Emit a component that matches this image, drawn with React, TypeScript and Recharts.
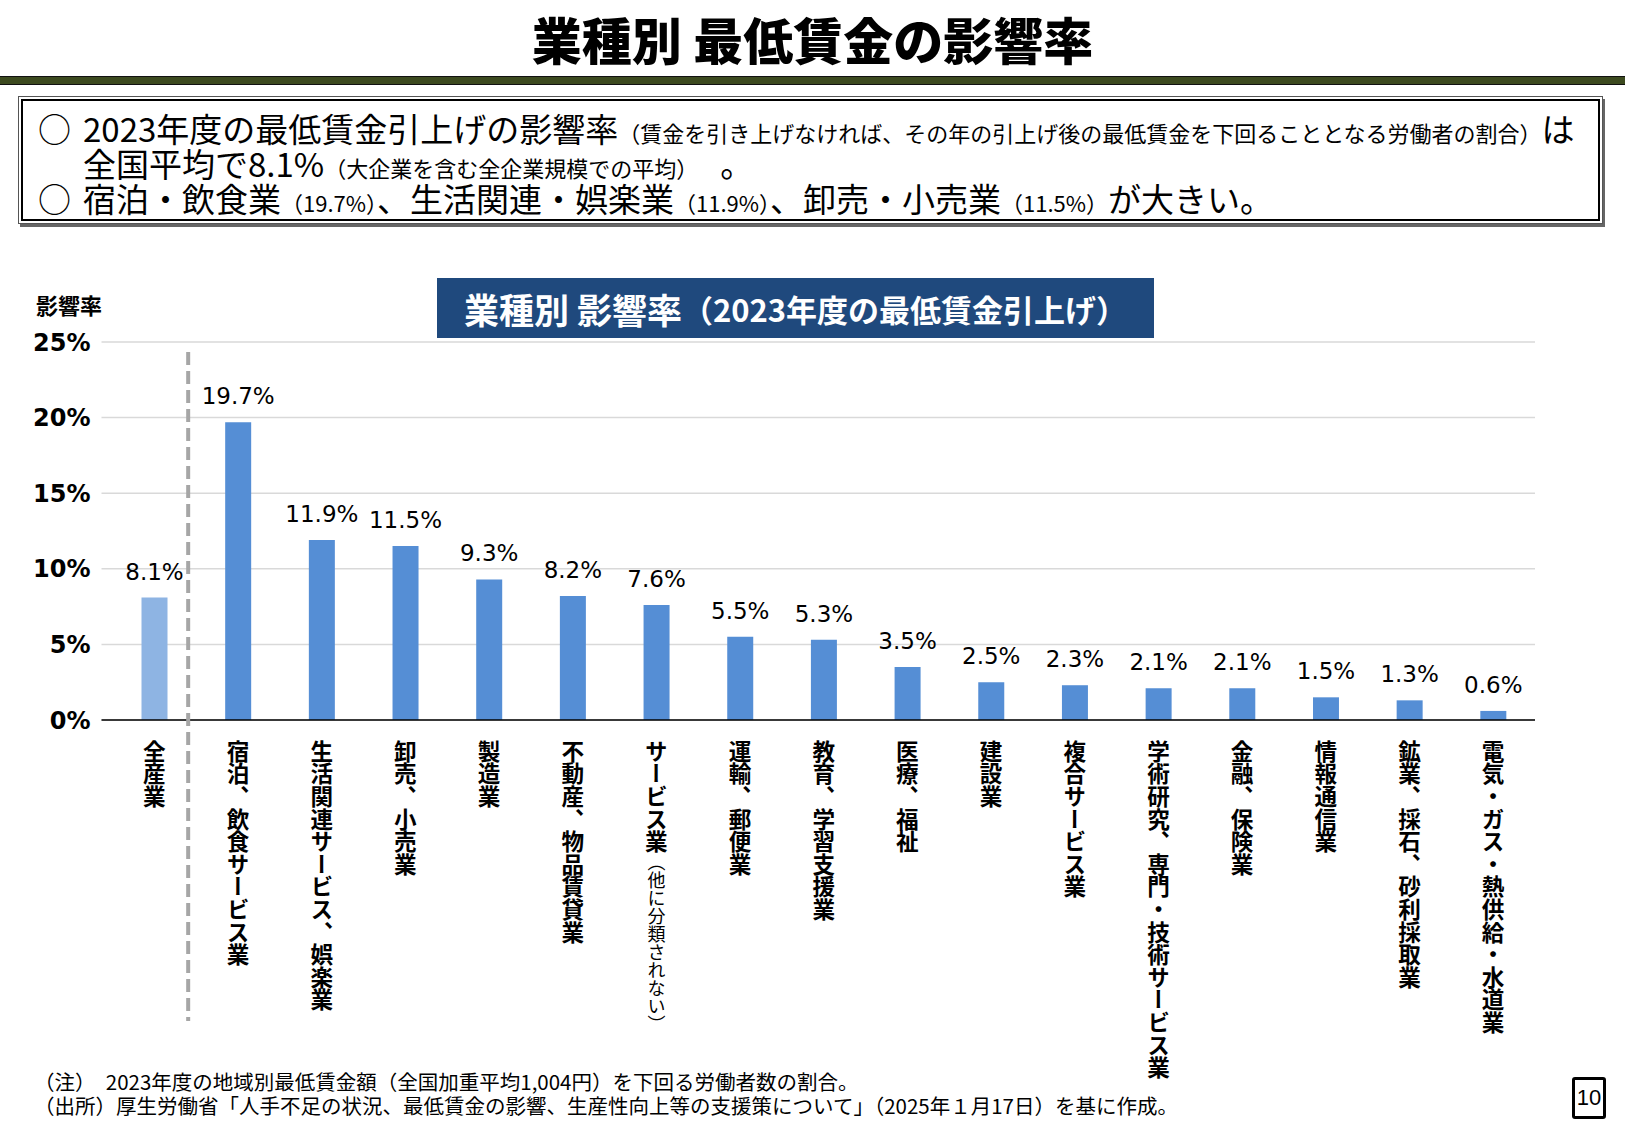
import { BarChart, Bar, XAxis, YAxis, CartesianGrid, Cell, LabelList } from "recharts";

const CATEGORIES = [
  "全産業",
  "宿泊、飲食サービス業",
  "生活関連サービス、娯楽業",
  "卸売、小売業",
  "製造業",
  "不動産、物品賃貸業",
  "サービス業（他に分類されない）",
  "運輸、郵便業",
  "教育、学習支援業",
  "医療、福祉",
  "建設業",
  "複合サービス業",
  "学術研究、専門・技術サービス業",
  "金融、保険業",
  "情報通信業",
  "鉱業、採石、砂利採取業",
  "電気・ガス・熱供給・水道業",
];
const RATES = [8.1, 19.7, 11.9, 11.5, 9.3, 8.2, 7.6, 5.5, 5.3, 3.5, 2.5, 2.3, 2.1, 2.1, 1.5, 1.3, 0.6];
const Y_TICKS = [0, 5, 10, 15, 20, 25];

const data = CATEGORIES.map((name, i) => ({ name, rate: RATES[i] }));

const JP = '"Noto Sans CJK JP", "Noto Sans", sans-serif';
const NUM = '"DejaVu Sans", Verdana, sans-serif';
const ALL_COLOR = "#8eb4e3";
const BAR_COLOR = "#558ed5";
const GRID_COLOR = "#d9d9d9";
const NAVY = "#1f497d";

const PLOT_TOP = 342;
const LABEL_TOP = 740;
const DIVIDER_END = 1021;

const lineStyle = (left: number, top: number) => ({
  position: "absolute" as const,
  left,
  top,
  fontSize: 33,
  lineHeight: "34px",
  whiteSpace: "nowrap" as const,
});
const small = { fontSize: 22 };

function CategoryTick(props: any) {
  const { x, payload, index } = props;
  const name: string = payload.value;
  const k = name.indexOf("（");
  const main = k >= 0 ? name.slice(0, k) : name;
  const note = k >= 0 ? name.slice(k) : "";
  const half = payload.offset ?? 41.8;
  return (
    <g>
      {index === 0 && (
        <line
          x1={x + half - 8}
          x2={x + half - 8}
          y1={PLOT_TOP + 10}
          y2={DIVIDER_END}
          stroke="#a6a6a6"
          strokeWidth={4}
          strokeDasharray="13 6"
        />
      )}
      <text
        x={x}
        y={LABEL_TOP}
        style={{ writingMode: "vertical-rl" }}
        fontFamily={JP}
        fontWeight="bold"
        fontSize={22.6}
        fill="#000"
      >
        {main}
        {note && (
          <tspan fontWeight="normal" fontSize={18}>
            {note}
          </tspan>
        )}
      </text>
    </g>
  );
}

export default function App() {
  return (
    <div
      style={{
        position: "absolute",
        left: 0,
        top: 0,
        width: 1625,
        height: 1125,
        background: "#fff",
        fontFamily: JP,
        color: "#000",
        overflow: "hidden",
      }}
    >
      {/* page title */}
      <div
        style={{
          position: "absolute",
          top: 11,
          left: 0,
          width: 1625,
          textAlign: "center",
          fontSize: 50,
          lineHeight: "54px",
          fontWeight: 900,
        }}
      >
        業種別 最低賃金の影響率
      </div>
      <div
        style={{
          position: "absolute",
          top: 76,
          left: 0,
          width: 1625,
          height: 7,
          background: "#3c4a1f",
          borderTop: "1px solid #111",
          borderBottom: "1px solid #111",
        }}
      />

      {/* summary box */}
      <div
        style={{
          position: "absolute",
          left: 18,
          top: 96,
          width: 1585,
          height: 128,
          border: "1px solid #555",
          boxShadow: "2px 3px 0 #666",
          padding: 2,
          boxSizing: "border-box",
        }}
      >
        <div style={{ width: "100%", height: "100%", border: "2px solid #000", boxSizing: "border-box" }} />
      </div>
      <div style={lineStyle(38, 111)}>○</div>
      <div style={lineStyle(83, 111)}>
        2023年度の最低賃金引上げの影響率
        <span style={small}>（賃金を引き上げなければ、その年の引上げ後の最低賃金を下回ることとなる労働者の割合）</span>は
      </div>
      <div style={lineStyle(83, 146)}>
        全国平均で8.1%<span style={small}>（大企業を含む全企業規模での平均）</span>　。
      </div>
      <div style={lineStyle(38, 181)}>○</div>
      <div style={lineStyle(83, 181)}>
        宿泊・飲食業<span style={small}>（19.7%）</span>、生活関連・娯楽業
        <span style={small}>（11.9%）</span>、卸売・小売業
        <span style={small}>（11.5%）</span>が大きい。
      </div>

      {/* chart title */}
      <div
        style={{
          position: "absolute",
          left: 437,
          top: 278,
          width: 717,
          height: 60,
          background: NAVY,
          color: "#fff",
          fontWeight: "bold",
          display: "flex",
          alignItems: "center",
          justifyContent: "center",
          whiteSpace: "nowrap",
        }}
      >
        <span style={{ fontSize: 35 }}>業種別 影響率</span>
        <span style={{ fontSize: 31 }}>（2023年度の最低賃金引上げ）</span>
      </div>

      <div style={{ position: "absolute", left: 36, top: 291, fontSize: 22, fontWeight: "bold", lineHeight: "26px" }}>
        影響率
      </div>

      <div style={{ position: "absolute", left: 0, top: 0 }}>
        <BarChart
          width={1625}
          height={1125}
          data={data}
          margin={{ top: PLOT_TOP, right: 90, bottom: 0, left: 0 }}
        >
          <CartesianGrid vertical={false} stroke={GRID_COLOR} strokeWidth={1.5} />
          <XAxis
            dataKey="name"
            height={405}
            interval={0}
            padding={{ left: 11, right: 0 }}
            axisLine={{ stroke: "#000", strokeWidth: 1.5 }}
            tickLine={false}
            tick={<CategoryTick />}
          />
          <YAxis
            width={101.5}
            domain={[0, 25]}
            ticks={Y_TICKS}
            interval={0}
            axisLine={false}
            tickLine={false}
            tickMargin={5}
            tickFormatter={(v: number) => `${v}%`}
            tick={{ fill: "#000", fontSize: 24, fontWeight: "bold", fontFamily: NUM }}
          />
          <Bar dataKey="rate" barSize={26} isAnimationActive={false}>
            {data.map((d, i) => (
              <Cell key={d.name} fill={i === 0 ? ALL_COLOR : BAR_COLOR} />
            ))}
            <LabelList
              dataKey="rate"
              position="top"
              offset={18}
              formatter={(v: number) => `${v}%`}
              style={{ fill: "#000", fontSize: 23, fontFamily: NUM }}
            />
          </Bar>
        </BarChart>
      </div>

      {/* footnotes */}
      <div style={{ position: "absolute", left: 34, top: 1069, fontSize: 20.5, lineHeight: "24px", whiteSpace: "nowrap" }}>
        （注）　2023年度の地域別最低賃金額（全国加重平均1,004円）を下回る労働者数の割合。
      </div>
      <div style={{ position: "absolute", left: 34, top: 1093, fontSize: 20.5, lineHeight: "24px", whiteSpace: "nowrap" }}>
        （出所）厚生労働省「人手不足の状況、最低賃金の影響、生産性向上等の支援策について」（2025年１月17日）を基に作成。
      </div>

      <div
        style={{
          position: "absolute",
          left: 1572,
          top: 1077,
          width: 34,
          height: 42,
          border: "3px solid #000",
          borderRadius: 3,
          boxSizing: "border-box",
          display: "flex",
          alignItems: "center",
          justifyContent: "center",
          fontFamily: '"Liberation Sans", Arial, sans-serif',
          fontSize: 22,
        }}
      >
        10
      </div>
    </div>
  );
}
